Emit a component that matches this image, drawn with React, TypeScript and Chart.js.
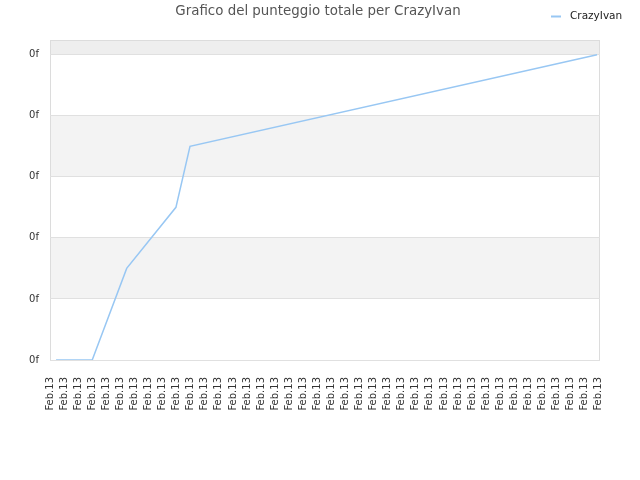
import { useEffect, useRef } from "react"
import { Chart, registerables } from "chart.js"

Chart.register(...registerables)

const chartTitle = "Grafico del punteggio totale per CrazyIvan"
const seriesName = "CrazyIvan"

// tick labels along the bottom (one per tick)
const xLabels = [
  "Feb.13", "Feb.13", "Feb.13", "Feb.13", "Feb.13", "Feb.13", "Feb.13", "Feb.13", "Feb.13", "Feb.13",
  "Feb.13", "Feb.13", "Feb.13", "Feb.13", "Feb.13", "Feb.13", "Feb.13", "Feb.13", "Feb.13", "Feb.13",
  "Feb.13", "Feb.13", "Feb.13", "Feb.13", "Feb.13", "Feb.13", "Feb.13", "Feb.13", "Feb.13", "Feb.13",
  "Feb.13", "Feb.13", "Feb.13", "Feb.13", "Feb.13", "Feb.13", "Feb.13", "Feb.13", "Feb.13", "Feb.13",
]
const yTicks = [0, 1, 2, 3, 4, 5]
const yTickLabels = ["0f", "0f", "0f", "0f", "0f", "0f"]

// series points (x in tick units, y in score units)
const pointX = [0.43, 3.0, 5.45, 8.95, 9.95, 38.88]
const pointY = [0, 0, 1.5, 2.5, 3.5, 5]

const lineColor = "#98c7f3"

const decorPlugin = {
  id: "decor",
  beforeDraw(chart: any) {
    const { ctx, chartArea } = chart
    const y = chart.scales.y
    const edges = [chartArea.top, ...yTicks.slice().reverse().map((v) => y.getPixelForValue(v))]
    ctx.save()
    for (let i = 0; i < edges.length - 1; i++) {
      if (i % 2 === 0) {
        ctx.fillStyle = i === 0 ? "#eeeeee" : "#f3f3f3"
        ctx.fillRect(chartArea.left, edges[i], chartArea.right - chartArea.left, edges[i + 1] - edges[i])
      }
    }
    ctx.strokeStyle = "#dcdcdc"
    ctx.lineWidth = 1
    ctx.strokeRect(
      Math.round(chartArea.left) + 0.5,
      Math.round(chartArea.top) + 0.5,
      Math.round(chartArea.right - chartArea.left) - 1,
      Math.round(chartArea.bottom - chartArea.top)
    )
    ctx.restore()
  },
  afterDraw(chart: any) {
    const { ctx } = chart
    ctx.save()
    ctx.font = "13.4px 'DejaVu Sans'"
    ctx.fillStyle = "#555555"
    ctx.textAlign = "center"
    ctx.textBaseline = "middle"
    ctx.fillText(chartTitle, 318, 12)

    ctx.strokeStyle = lineColor
    ctx.lineWidth = 2
    ctx.beginPath()
    ctx.moveTo(551, 16.5)
    ctx.lineTo(561, 16.5)
    ctx.stroke()
    ctx.font = "10.5px 'DejaVu Sans'"
    ctx.fillStyle = "#222222"
    ctx.textAlign = "left"
    ctx.fillText(seriesName, 570, 16)
    ctx.restore()
  },
}

export default function App() {
  const chartRef = useRef<HTMLCanvasElement>(null)
  const chartInstance = useRef<Chart | null>(null)

  useEffect(() => {
    if (!chartRef.current) return
    document.body.style.margin = "0"

    if (chartInstance.current) {
      chartInstance.current.destroy()
    }

    chartInstance.current = new Chart(chartRef.current, {
      type: "line",
      data: {
        datasets: [
          {
            label: seriesName,
            data: pointX.map((x, i) => ({ x, y: pointY[i] })),
            borderColor: lineColor,
            borderWidth: 1.5,
            pointRadius: 0,
            tension: 0,
            fill: false,
          },
        ],
      },
      options: {
        responsive: true,
        maintainAspectRatio: false,
        animation: false,
        layout: { padding: { top: 40, right: 40, left: 0, bottom: 0 } },
        scales: {
          x: {
            type: "linear",
            min: 0,
            max: 39.09,
            grid: { display: false },
            border: { display: false },
            afterBuildTicks: (axis: any) => {
              axis.ticks = xLabels.map((_, i) => ({ value: i }))
            },
            afterFit: (axis: any) => {
              axis.height = 120
            },
            ticks: {
              autoSkip: false,
              minRotation: 90,
              maxRotation: 90,
              padding: 9,
              color: "#333333",
              font: { family: "'DejaVu Sans'", size: 10 },
              callback: (_v: any, i: number) => xLabels[i],
            },
          },
          y: {
            min: 0,
            max: 5.24,
            grid: { color: "#e0e0e0", drawTicks: false },
            border: { display: false },
            afterBuildTicks: (axis: any) => {
              axis.ticks = yTicks.map((v) => ({ value: v }))
            },
            afterFit: (axis: any) => {
              axis.width = 50
            },
            ticks: {
              padding: 11,
              color: "#333333",
              font: { family: "'DejaVu Sans'", size: 10 },
              callback: (_v: any, i: number) => yTickLabels[i],
            },
          },
        },
        plugins: {
          legend: { display: false },
          title: { display: false },
          tooltip: { enabled: false },
        },
      },
      plugins: [decorPlugin],
    })

    return () => {
      if (chartInstance.current) {
        chartInstance.current.destroy()
        chartInstance.current = null
      }
    }
  }, [])

  return (
    <div style={{ width: 640, height: 480, position: "relative" }}>
      <canvas ref={chartRef} />
    </div>
  )
}
